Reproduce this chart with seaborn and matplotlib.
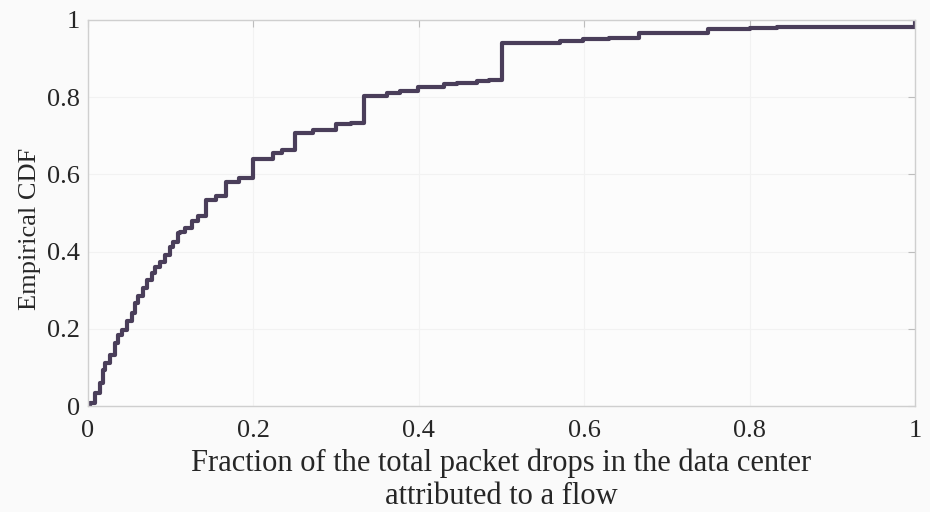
import numpy as np
import pandas as pd
import matplotlib.pyplot as plt
import seaborn as sns

# empirical CDF breakpoints (steps-post: value holds from x onward)
frac = [0, 0.0024, 0.0085, 0.0145, 0.0185, 0.0206, 0.0266, 0.0326, 0.0366,
        0.0407, 0.0468, 0.0528, 0.0568, 0.0608, 0.0669, 0.0709, 0.0770, 0.0810,
        0.0871, 0.0931, 0.0992, 0.1032, 0.1092, 0.1112, 0.1173, 0.1254, 0.1334,
        0.1429, 0.155, 0.1667, 0.183, 0.2, 0.224, 0.235, 0.25, 0.272, 0.30,
        0.318, 0.3333, 0.361, 0.377, 0.399, 0.430, 0.446, 0.470, 0.485, 0.5,
        0.538, 0.571, 0.599, 0.63, 0.6667, 0.75, 0.80, 0.833, 0.877, 1.0]
cdf = [0, 0.007, 0.033, 0.059, 0.093, 0.111, 0.132, 0.163, 0.184,
       0.197, 0.219, 0.241, 0.267, 0.284, 0.306, 0.326, 0.344, 0.361,
       0.374, 0.391, 0.413, 0.426, 0.448, 0.452, 0.461, 0.478, 0.492,
       0.534, 0.545, 0.581, 0.590, 0.639, 0.655, 0.663, 0.708, 0.715, 0.731,
       0.734, 0.803, 0.810, 0.817, 0.827, 0.834, 0.838, 0.843, 0.845, 0.940,
       0.941, 0.946, 0.950, 0.952, 0.966, 0.976, 0.978, 0.981, 0.983, 1.0]

xticks = [0, 0.2, 0.4, 0.6, 0.8, 1]
yticks = [0, 0.2, 0.4, 0.6, 0.8, 1]
tick_labels = ['0', '0.2', '0.4', '0.6', '0.8', '1']

df = pd.DataFrame({'frac': frac, 'cdf': cdf})

sns.set_theme(style='whitegrid')
plt.rcParams['font.family'] = ['Liberation Serif', 'DejaVu Serif']
plt.rcParams.update({
    'figure.facecolor': '#fafafa',
    'axes.facecolor': '#fcfcfc',
    'axes.edgecolor': '#cfcfcf',
    'grid.color': '#f2f2f2',
    'xtick.direction': 'in',
    'ytick.direction': 'in',
    'xtick.top': True,
    'ytick.right': True,
})

fig = plt.figure(figsize=(9.3, 5.12), dpi=100)
ax = fig.add_axes([0.0946, 0.207, 0.8893, 0.754])

sns.lineplot(data=df, x='frac', y='cdf', drawstyle='steps-post', estimator=None,
             sort=False, color='#4a3e5a', linewidth=3, ax=ax)

ax.set_xlim(0, 1)
ax.set_ylim(0, 1)
ax.set_xticks(xticks)
ax.set_xticklabels(tick_labels)
ax.set_yticks(yticks)
ax.set_yticklabels(tick_labels)
ax.tick_params(axis='both', which='both', length=5, width=0.8, color='#bdbdbd',
               labelsize=19, labelcolor='#262626', top=True, right=True)
ax.tick_params(axis='x', pad=10)
ax.tick_params(axis='y', pad=6)
for s in ax.spines.values():
    s.set_linewidth(1)
    s.set_color('#cfcfcf')
ax.grid(True, linewidth=0.8)

ax.set_xlabel('Fraction of the total packet drops in the data center\nattributed to a flow',
              fontsize=22, color='#262626', linespacing=1.17, labelpad=5)
ax.set_ylabel('Empirical CDF', fontsize=19, color='#262626')
ax.yaxis.set_label_coords(-0.057, 0.459)

fig.savefig('out.png', dpi=100, facecolor=fig.get_facecolor())
